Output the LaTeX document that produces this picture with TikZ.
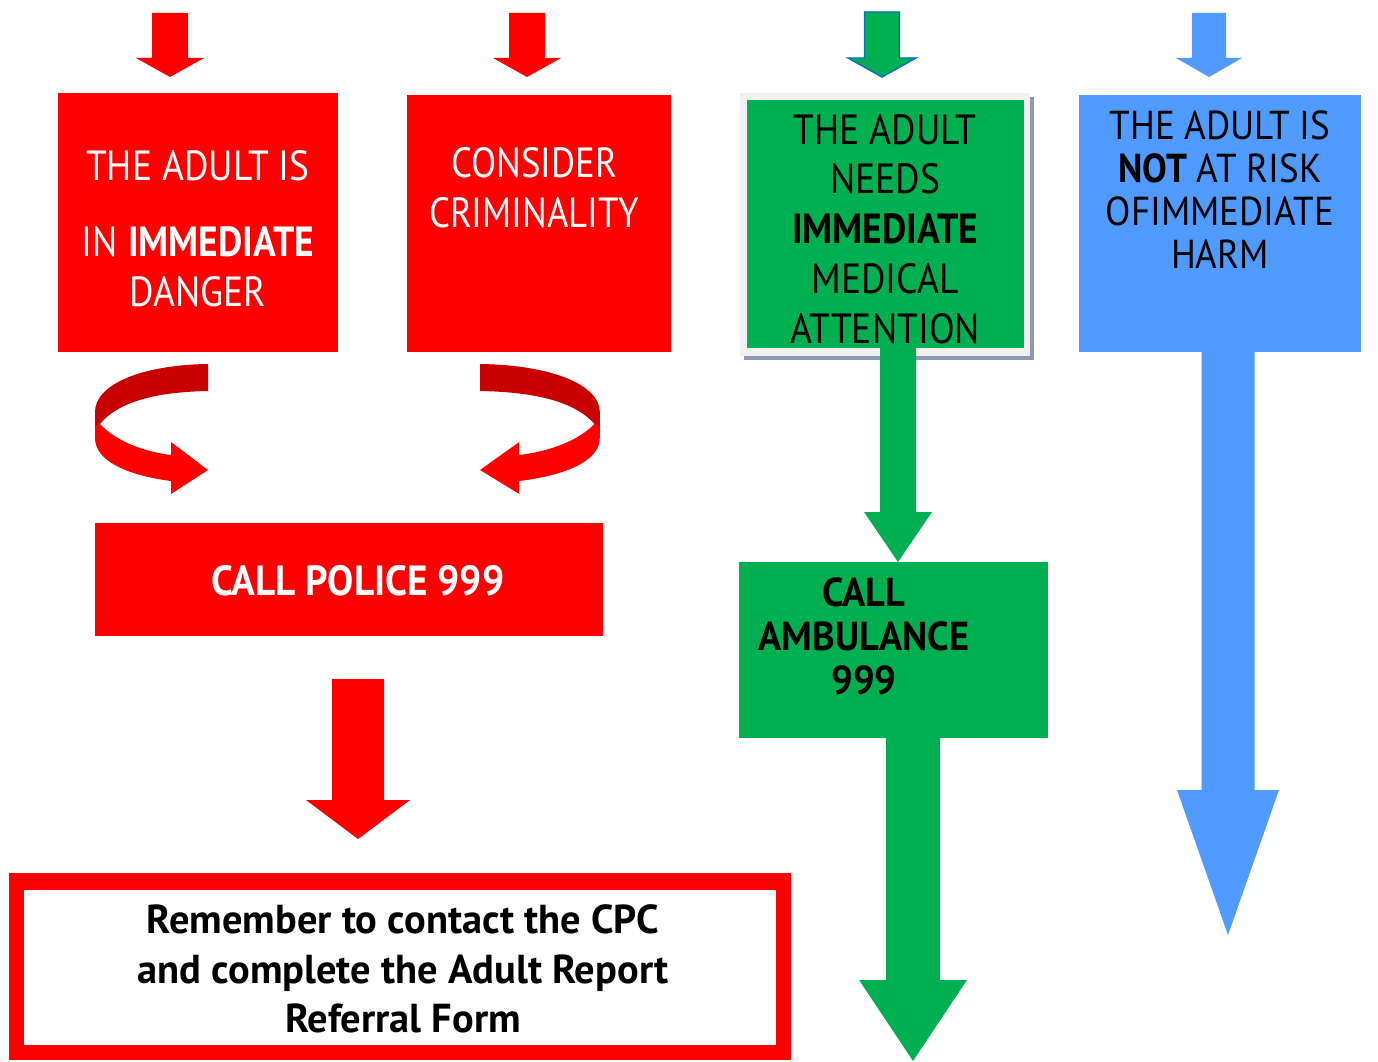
\documentclass[tikz,border=0pt]{standalone}
\usepackage{fontspec}
\setmainfont{PT Sans}
\usetikzlibrary{fit}
\definecolor{myred}{HTML}{FF0000}
\definecolor{darkred}{HTML}{C80000}
\definecolor{mygreen}{HTML}{00B050}
\definecolor{myblue}{HTML}{4F9BFF}
\definecolor{shadowc}{HTML}{8C99B4}
\definecolor{borderg}{HTML}{F0F0F0}
\definecolor{arrowedge}{HTML}{0070C0}
\newcommand\blockarrow[7]{% style, cx, top, shaft half width, head y, head half width, tip y
  \path[#1] ({#2-#4},#3) -- ({#2+#4},#3) -- ({#2+#4},#5) -- ({#2+#6},#5) -- (#2,#7)
    -- ({#2-#6},#5) -- ({#2-#4},#5) -- cycle;}
\newcommand\curvedribbon{%
  \fill[darkred] (208,364) .. controls (140,365) and (95,385) .. (95,412) -- (95,428)
    -- (100,424) .. controls (120,400) and (160,392) .. (208,391) -- cycle;
  \fill[myred] (100,424) .. controls (115,440) and (140,451) .. (171,455) -- (171,442)
    -- (208,470) -- (171,494) -- (171,481) .. controls (125,475) and (95,460) .. (95,438)
    -- (95,426) -- cycle;}
\begin{document}
\begin{tikzpicture}[x=0.02cm,y=-0.02cm,
  box/.style={inner sep=0pt, outer sep=0pt},
  txt/.style={inner sep=0pt, align=center, font=\fontsize{24}{28.35}\selectfont, xscale=0.89, transform shape},
  btxt/.style={inner sep=0pt, align=center, font=\fontsize{24}{28.35}\selectfont\bfseries}]
\useasboundingbox (0,0) rectangle (1378,1061);
\fill[white] (0,0) rectangle (1378,1061);

% top arrows
\blockarrow{fill=myred}{170}{13}{18}{58}{34}{77}
\blockarrow{fill=myred}{527}{13}{18}{58}{34}{77}
\blockarrow{fill=mygreen,draw=arrowedge,line width=0.8pt}{882}{12}{17.5}{58}{34}{77}
\blockarrow{fill=myblue}{1209}{13}{17}{58}{33}{77}

% red boxes
\node[box, fill=myred, fit={(58,93) (338,352)}] (danger) {};
\node[txt, text=white] at (198,229) {THE ADULT IS\\[15pt] IN \textbf{IMMEDIATE}\\ DANGER};
\node[box, fill=myred, fit={(407,95) (671,352)}] (crim) {};
\node[txt, text=white, xscale=0.98] at (534,188) {CONSIDER\\ CRIMINALITY};

% green box with border and shadow
\fill[shadowc] (744,97) rectangle (1034,360);
\fill[borderg] (740,93) rectangle (1030,356);
\node[box, fill=mygreen, fit={(747,100) (1024,348)}] (medical) {};
\node[txt] at (885,229) {THE ADULT\\ NEEDS\\ \textbf{IMMEDIATE}\\ MEDICAL\\ ATTENTION};

% blue box
\node[box, fill=myblue, fit={(1079,95) (1361,352)}] (norisk) {};
\node[txt, font=\fontsize{23}{24.5}\selectfont, xscale=1.03] at (1220,190) {THE ADULT IS\\ \textbf{NOT} AT RISK\\ OFIMMEDIATE\\ HARM};

% curved arrows
\curvedribbon
\begin{scope}[shift={(700.5,0)}, xscale=-1.06]
\curvedribbon
\end{scope}

% call police
\node[box, fill=myred, fit={(95,523) (603,636)}] (police) {};
\node[btxt, text=white, xscale=0.93, transform shape] at (358,581) {CALL POLICE 999};

% arrow to referral
\blockarrow{fill=myred}{358}{679}{26}{800}{52}{839}

% referral box
\fill[myred] (9,873) rectangle (791,1060);
\node[box, fill=white, fit={(24,890) (776,1045)}] (referral) {};
\node[btxt, font=\fontsize{23}{28.35}\selectfont\bfseries] at (403,969) {Remember to contact the CPC\\ and complete the Adult Report\\ Referral Form};

% green arrows
\blockarrow{fill=mygreen}{898}{348}{18}{512}{34}{562}
\node[box, fill=mygreen, fit={(739,562) (1048,738)}] (ambulance) {};
\node[btxt, font=\fontsize{23}{25}\selectfont\bfseries, xscale=0.95, transform shape] at (864,636) {CALL\\ AMBULANCE\\ 999};
\blockarrow{fill=mygreen}{913}{738}{27}{980}{54}{1061}

% blue arrow
\blockarrow{fill=myblue}{1228}{352}{26.5}{790}{51}{935}
\end{tikzpicture}
\end{document}
